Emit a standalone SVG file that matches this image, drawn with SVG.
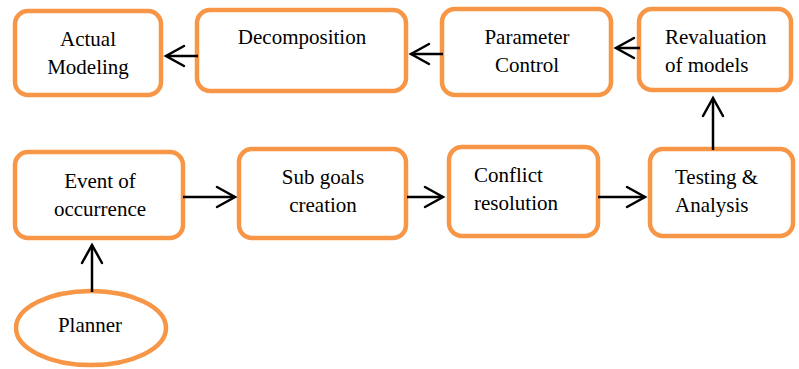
<svg xmlns="http://www.w3.org/2000/svg" width="799" height="369" viewBox="0 0 799 369">
<style>
.box{fill:#fff;stroke:#F79646;stroke-width:4.5}
.ln{stroke:#000;stroke-width:2.5;fill:none}
</style>
<defs>
<marker id="ah" viewBox="-20 -12 22 24" refX="0" refY="0" markerWidth="22" markerHeight="24" markerUnits="userSpaceOnUse" orient="auto" overflow="visible">
<path d="M-18,-10 L0,0 L-18,10" fill="none" stroke="#000" stroke-width="2.5" stroke-linecap="round" stroke-linejoin="miter"/>
</marker>
</defs>
<rect width="799" height="369" fill="#fff"/>
<g id="actual-modeling"><rect class="box" x="15" y="11" width="146" height="84" rx="13"/><text font-family="Liberation Serif" font-size="21" text-anchor="middle" x="88" y="46">Actual</text><text font-family="Liberation Serif" font-size="21" text-anchor="middle" x="88" y="74">Modeling</text></g>
<g id="decomposition"><rect class="box" x="197" y="10" width="209" height="81" rx="13"/><text font-family="Liberation Serif" font-size="21" text-anchor="middle" x="302" y="44">Decomposition</text></g>
<g id="parameter-control"><rect class="box" x="442" y="9" width="169" height="86" rx="13"/><text font-family="Liberation Serif" font-size="21" text-anchor="middle" x="527" y="44">Parameter</text><text font-family="Liberation Serif" font-size="21" text-anchor="middle" x="527" y="72">Control</text></g>
<g id="revaluation"><rect class="box" x="639" y="9" width="152" height="81" rx="13"/><text font-family="Liberation Serif" font-size="21" x="665" y="44">Revaluation</text><text font-family="Liberation Serif" font-size="21" x="665" y="72">of models</text></g>
<g id="event"><rect class="box" x="15" y="152" width="168" height="86" rx="13"/><text font-family="Liberation Serif" font-size="21" text-anchor="middle" x="100" y="188">Event of</text><text font-family="Liberation Serif" font-size="21" text-anchor="middle" x="100" y="216">occurrence</text></g>
<g id="subgoals"><rect class="box" x="239" y="149" width="167" height="89" rx="13"/><text font-family="Liberation Serif" font-size="21" text-anchor="middle" x="323" y="184">Sub goals</text><text font-family="Liberation Serif" font-size="21" text-anchor="middle" x="323" y="212">creation</text></g>
<g id="conflict"><rect class="box" x="449" y="147" width="149" height="89" rx="13"/><text font-family="Liberation Serif" font-size="21" x="474" y="182">Conflict</text><text font-family="Liberation Serif" font-size="21" x="474" y="210">resolution</text></g>
<g id="testing"><rect class="box" x="650" y="149" width="143" height="87" rx="13"/><text font-family="Liberation Serif" font-size="21" x="675" y="184">Testing &amp;</text><text font-family="Liberation Serif" font-size="21" x="675" y="212">Analysis</text></g>
<g id="planner"><ellipse cx="91" cy="328" rx="75" ry="37" fill="#fff" stroke="#F79646" stroke-width="4.5"/><text font-family="Liberation Serif" font-size="21" text-anchor="middle" x="90" y="332">Planner</text></g>
<g id="connectors">
<line class="ln" x1="198" y1="56" x2="166" y2="56" marker-end="url(#ah)"/>
<line class="ln" x1="443" y1="54" x2="411" y2="54" marker-end="url(#ah)"/>
<line class="ln" x1="640" y1="48" x2="616" y2="48" marker-end="url(#ah)"/>
<line class="ln" x1="713" y1="150" x2="713" y2="98" marker-end="url(#ah)"/>
<line class="ln" x1="183" y1="197" x2="235" y2="197" marker-end="url(#ah)"/>
<line class="ln" x1="407" y1="197" x2="443" y2="197" marker-end="url(#ah)"/>
<line class="ln" x1="598" y1="197" x2="645" y2="197" marker-end="url(#ah)"/>
<line class="ln" x1="92" y1="292" x2="92" y2="245" marker-end="url(#ah)"/>
</g>
</svg>
